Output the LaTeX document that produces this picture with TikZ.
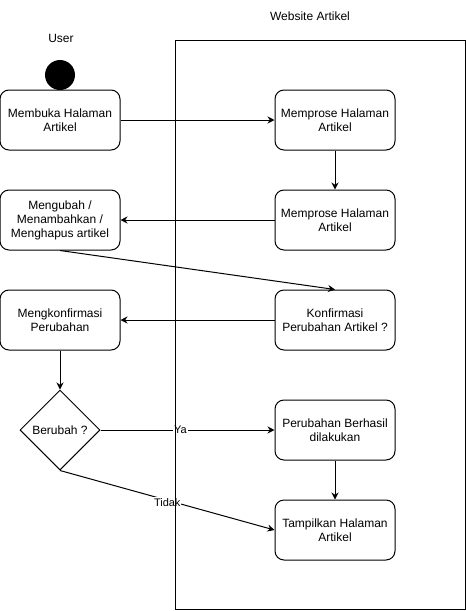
\documentclass[tikz,border=0pt]{standalone}
\usepackage{fontspec}
\setmainfont{Liberation Sans}
\usetikzlibrary{arrows.meta,shapes.geometric}
\begin{document}
\begin{tikzpicture}[x=1pt, y=-1pt, line width=1pt,
    action/.style={draw, rounded corners=9pt, minimum width=120pt, minimum height=60pt,
      align=center, inner sep=2pt, font=\fontsize{12}{14}\selectfont},
    decision/.style={draw, diamond, minimum width=80pt, minimum height=80pt, inner sep=0pt,
      font=\fontsize{12}{14}\selectfont},
    start/.style={circle, fill=black, minimum size=30pt, inner sep=0pt},
    flow/.style={-{Stealth[length=7pt,width=7pt]}},
    guard/.style={fill=white, inner sep=1pt, font=\fontsize{11}{12}\selectfont}]
  \useasboundingbox (0,0) rectangle (466,611);
  % Lane titles
  \node[font=\fontsize{12}{14}\selectfont] (user) at (61,38) {User};
  \node[font=\fontsize{12}{14}\selectfont] (web) at (310,16) {Website Artikel};
  % User side
  \node[start] (s) at (60,75) {};
  \node[action] (buka) at (60,120) {Membuka Halaman\\Artikel};
  \node[action] (ubah) at (60,220) {Mengubah /\\Menambahkan /\\Menghapus artikel};
  \node[action] (konf) at (60,320) {Mengkonfirmasi\\Perubahan};
  \node[decision] (cek) at (60,430) {Berubah ?};
  % Website side
  \node[action] (proses1) at (335,120) {Memprose Halaman\\Artikel};
  \node[action] (proses2) at (335,220) {Memprose Halaman\\Artikel};
  \node[action] (tanya) at (335,320) {Konfirmasi\\Perubahan Artikel ?};
  \node[action] (hasil) at (335,430) {Perubahan Berhasil\\dilakukan};
  \node[action] (tampil) at (335,530) {Tampilkan Halaman\\Artikel};
  % Flow
  \draw[flow] (buka) -- (proses1);
  \draw[flow] (proses1) -- (proses2);
  \draw[flow] (proses2) -- (ubah);
  \draw[flow] (ubah.south) -- (tanya.north);
  \draw[flow] (tanya) -- (konf);
  \draw[flow] (konf) -- (cek);
  \draw[flow] (cek.east) -- node[guard, pos=0.46] {Ya} (hasil.west);
  \draw[flow] (cek.south) -- node[guard, pos=0.5, yshift=-2pt] {Tidak} (tampil.west);
  \draw[flow] (hasil) -- (tampil);
  % Lane frame
  \draw (175,40) rectangle (465,609);
\end{tikzpicture}
\end{document}
